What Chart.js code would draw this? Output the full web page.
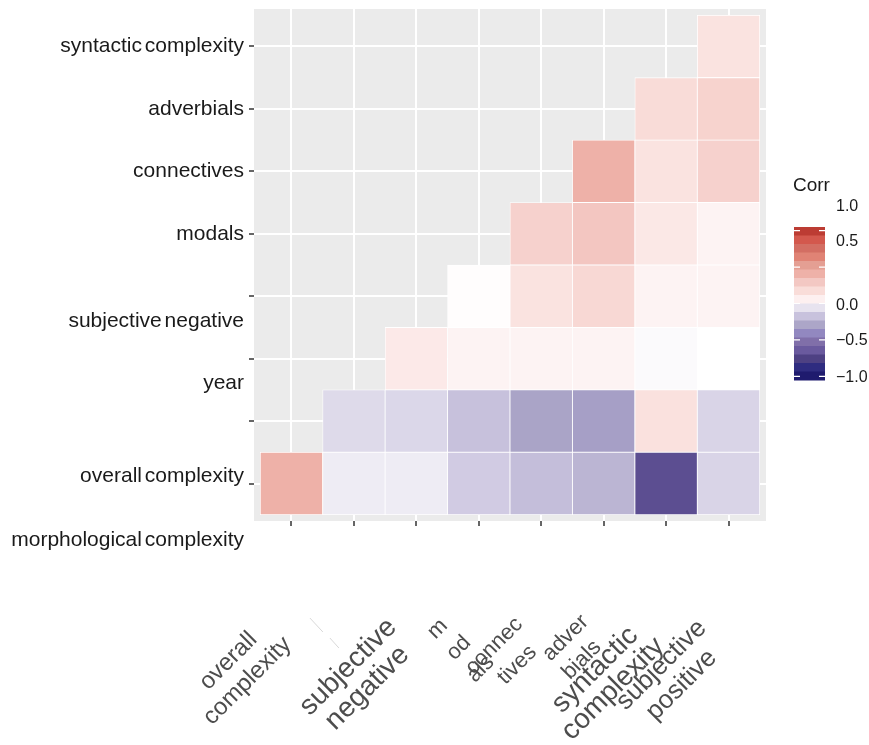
<!DOCTYPE html>
<html>
<head>
<meta charset="utf-8">
<script src="https://cdn.jsdelivr.net/npm/chart.js@4"></script>
<style>
  body { margin: 0; background: #fff; }
  #wrap { width: 869px; height: 745px; }
</style>
</head>
<body>
<div id="wrap"><canvas id="corrChart" width="869" height="745"></canvas></div>
<script>
// Rows from bottom to top (y axis)
const yLabels = ['morphological complexity', 'overall complexity', 'year', 'subjective negative',
                 'modals', 'connectives', 'adverbials', 'syntactic complexity'];

// Columns left to right (x axis), as the words are broken in the picture
const xLabels = [
    ['overall', 'complexity'],
    [],
    ['subjective', 'negative'],
    ['m', 'od', 'als'],
    ['connec', 'tives'],
    ['adver', 'bials'],
    ['syntactic', 'complexity'],
    ['subjective', 'positive']
];

// Correlations, row r (1 = bottom) covers columns r..8
const corrRows = [
    [0.41, -0.04, -0.04, -0.14, -0.19, -0.23, -0.70, -0.11],
    [-0.09, -0.10, -0.18, -0.30, -0.32, 0.15, -0.11],
    [0.10, 0.05, 0.05, 0.05, -0.01, 0.00],
    [0.01, 0.14, 0.20, 0.05, 0.05],
    [0.24, 0.30, 0.11, 0.05],
    [0.41, 0.14, 0.24],
    [0.18, 0.23],
    [0.14]
];

const legendValues = [1.0, 0.5, 0.0, -0.5, -1.0];
const legendLabels = ['1.0', '0.5', '0.0', '\u22120.5', '\u22121.0'];

// colour scale (value, colour)
const colourStops = [
    [-1.00, '#1e1a6d'], [-0.88, '#2e2b80'], [-0.76, '#4e4183'], [-0.64, '#6a5a9e'],
    [-0.52, '#8170a9'], [-0.41, '#9288c0'], [-0.29, '#aca6c8'], [-0.17, '#c9c3de'],
    [-0.06, '#e6e2ef'], [0.00, '#ffffff'], [0.06, '#fdf0f0'], [0.18, '#f9dcd8'],
    [0.30, '#f3c6c1'], [0.41, '#eeb1a8'], [0.53, '#e49e92'], [0.65, '#e08173'],
    [0.77, '#d26c61'], [0.88, '#d3574c'], [1.00, '#ba3a31']
];

function hexToRgb(h) {
    return [parseInt(h.slice(1, 3), 16), parseInt(h.slice(3, 5), 16), parseInt(h.slice(5, 7), 16)];
}

function corrColour(v) {
    if (v <= colourStops[0][0]) return colourStops[0][1];
    for (let i = 1; i < colourStops.length; i++) {
        const [v1, c1] = colourStops[i];
        if (v <= v1) {
            const [v0, c0] = colourStops[i - 1];
            const t = (v - v0) / (v1 - v0);
            const a = hexToRgb(c0), b = hexToRgb(c1);
            const rgb = a.map((x, k) => Math.round(x + (b[k] - x) * t));
            return `rgb(${rgb[0]},${rgb[1]},${rgb[2]})`;
        }
    }
    return colourStops[colourStops.length - 1][1];
}

// Label placement quirks (pixels)
const yLabelShift = [57, 55, 25, 25, 0, 0, 0, 0];
const xWordLayout = [
    { size: 24, pos: [[-63, 140], [-44, 160]] },
    { size: 0, pos: [] },
    { size: 28, pos: [[-68, 146], [-49, 167]] },
    { size: 22, pos: [[-41, 108], [-20, 127], [2, 148]] },
    { size: 22, pos: [[-47, 125], [-24, 144]] },
    { size: 22, pos: [[-38, 117], [-22, 139]] },
    { size: 28, pos: [[-71, 149], [-53, 168]] },
    { size: 26, pos: [[-67, 144], [-47, 164]] }
];
const legendBox = { x: 794, top: 227, bottom: 380, width: 31, bands: 18, range: 1.05 };
const legendLabelShift = [-24, -25, 2, 1, 1];

const FONT = '"Liberation Sans", Arial, Helvetica, sans-serif';

const datasets = corrRows.map((vals, i) => {
    const row = i + 1;
    return {
        label: yLabels[i],
        data: vals.map((v, j) => ({ x: row + j, y: [row - 0.5, row + 0.5], corr: v })),
        backgroundColor: vals.map(corrColour),
        borderColor: '#ffffff',
        borderWidth: 0.8,
        borderSkipped: false,
        grouped: false,
        barPercentage: 1,
        categoryPercentage: 1
    };
});

const panelBackground = {
    id: 'panelBackground',
    beforeDraw(chart) {
        const { ctx, chartArea: a } = chart;
        ctx.save();
        ctx.fillStyle = '#ffffff';
        ctx.fillRect(0, 0, chart.width, chart.height);
        ctx.fillStyle = '#ebebeb';
        ctx.fillRect(a.left, a.top, a.right - a.left, a.bottom - a.top);
        ctx.restore();
    }
};

const decorations = {
    id: 'decorations',
    afterDraw(chart) {
        const { ctx, scales } = chart;
        const xs = scales.x, ys = scales.y;
        ctx.save();

        // y labels
        ctx.fillStyle = '#1a1a1a';
        ctx.font = '21px ' + FONT;
        ctx.textAlign = 'right';
        ctx.textBaseline = 'middle';
        if ('wordSpacing' in ctx) ctx.wordSpacing = '-3px';
        yLabels.forEach((lab, i) => {
            ctx.fillText(lab, ys.left + ys.width - 10, ys.getPixelForValue(i + 1) + yLabelShift[i]);
        });
        if ('wordSpacing' in ctx) ctx.wordSpacing = '0px';

        // x labels, rotated 45 degrees
        ctx.fillStyle = '#4d4d4d';
        ctx.textAlign = 'center';
        xLabels.forEach((words, i) => {
            const lay = xWordLayout[i];
            const px = xs.getPixelForValue(i + 1);
            ctx.font = lay.size + 'px ' + FONT;
            words.forEach((w, k) => {
                const [dx, dy] = lay.pos[k];
                ctx.save();
                ctx.translate(px + dx, xs.top + dy);
                ctx.rotate(-Math.PI / 4);
                ctx.fillText(w, 0, 0);
                ctx.restore();
            });
        });
        // faint remains of the second column label
        const p2 = xs.getPixelForValue(2);
        ctx.strokeStyle = 'rgba(190,190,190,0.6)';
        ctx.lineWidth = 1;
        ctx.beginPath();
        ctx.moveTo(p2 - 44, xs.top + 97);
        ctx.lineTo(p2 - 31, xs.top + 111);
        ctx.moveTo(p2 - 24, xs.top + 117);
        ctx.lineTo(p2 - 15, xs.top + 127);
        ctx.stroke();

        // colour bar legend
        const L = legendBox;
        const h = L.bottom - L.top;
        const bandH = h / L.bands;
        for (let b = 0; b < L.bands; b++) {
            const v = L.range - (b + 0.5) * (2 * L.range / L.bands);
            ctx.fillStyle = corrColour(v);
            ctx.fillRect(L.x, L.top + b * bandH, L.width, bandH + 0.5);
        }
        const valToY = v => L.top + (L.range - v) / (2 * L.range) * h;
        ctx.strokeStyle = '#ffffff';
        ctx.lineWidth = 1.2;
        legendValues.forEach(v => {
            const y = valToY(v);
            ctx.beginPath();
            ctx.moveTo(L.x, y); ctx.lineTo(L.x + 6, y);
            ctx.moveTo(L.x + L.width - 6, y); ctx.lineTo(L.x + L.width, y);
            ctx.stroke();
        });
        ctx.fillStyle = '#1a1a1a';
        ctx.textAlign = 'left';
        ctx.textBaseline = 'middle';
        ctx.font = '19px ' + FONT;
        ctx.fillText('Corr', L.x - 1, 186);
        ctx.font = '16px ' + FONT;
        legendValues.forEach((v, i) => {
            ctx.fillText(legendLabels[i], L.x + L.width + 11, valToY(v) + legendLabelShift[i]);
        });

        ctx.restore();
    }
};

const ticks1to8 = scale => { scale.ticks = [1, 2, 3, 4, 5, 6, 7, 8].map(v => ({ value: v })); };

new Chart(document.getElementById('corrChart'), {
    type: 'bar',
    data: { datasets: datasets },
    options: {
        responsive: false,
        animation: false,
        layout: { padding: { left: 0, top: 9, right: 103, bottom: 0 } },
        plugins: { legend: { display: false }, tooltip: { enabled: false } },
        scales: {
            x: {
                type: 'linear',
                min: 0.4,
                max: 8.6,
                offset: false,
                afterBuildTicks: ticks1to8,
                afterFit: s => { s.height = 224; },
                ticks: { display: false },
                border: { display: false },
                grid: { offset: false, color: '#ffffff', lineWidth: 2, drawTicks: true, tickLength: 5, tickColor: '#333333', tickWidth: 1.5 }
            },
            y: {
                type: 'linear',
                min: 0.4,
                max: 8.6,
                afterBuildTicks: ticks1to8,
                afterFit: s => { s.width = 254; },
                ticks: { display: false },
                border: { display: false },
                grid: { color: '#ffffff', lineWidth: 2, drawTicks: true, tickLength: 5, tickColor: '#333333', tickWidth: 1.5 }
            }
        }
    },
    plugins: [panelBackground, decorations]
});
</script>
</body>
</html>
